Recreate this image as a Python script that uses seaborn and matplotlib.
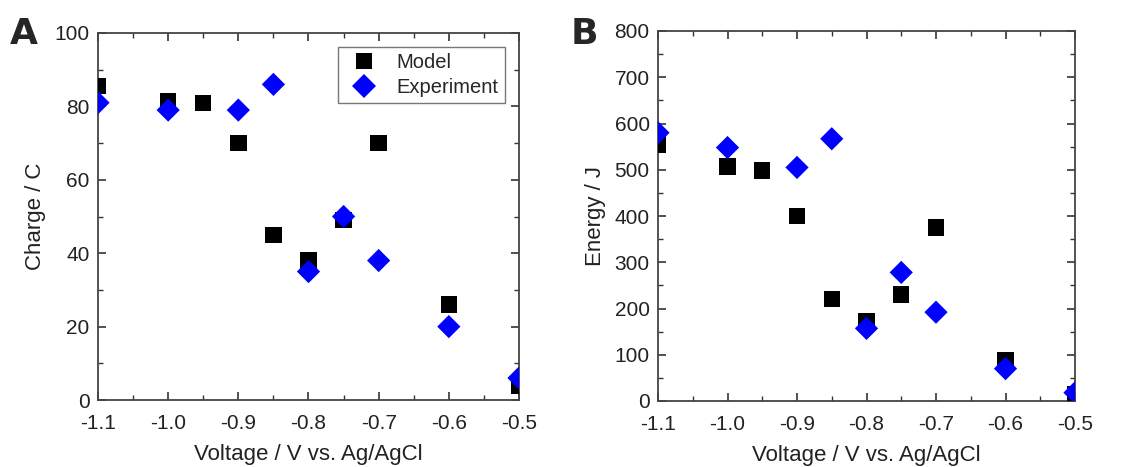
import matplotlib
matplotlib.use("Agg")
import matplotlib.pyplot as plt
import seaborn as sns
import pandas as pd
from matplotlib.ticker import MultipleLocator, FormatStrFormatter

sns.set_theme(style="ticks")
plt.rcParams['font.family'] = ['Liberation Sans', 'DejaVu Sans']

# ---- data ----
voltage_model = [-1.1, -1.0, -0.95, -0.9, -0.85, -0.8, -0.75, -0.7, -0.6, -0.5]
charge_model = [85.5, 81.5, 81, 70, 45, 38, 49, 70, 26, 4]
energy_model = [555, 507, 498, 400, 220, 173, 230, 375, 88, 15]

voltage_exp = [-1.1, -1.0, -0.9, -0.85, -0.8, -0.75, -0.7, -0.6, -0.5]
charge_exp = [81, 79, 79, 86, 35, 50, 38, 20, 6]
energy_exp = [580, 548, 505, 567, 157, 278, 192, 70, 18]

series_names = ["Model", "Experiment"]
xlabel = "Voltage / V vs. Ag/AgCl"
ylabels = ["Charge / C", "Energy / J"]
panel_letters = ["A", "B"]

dfA = pd.concat([
    pd.DataFrame({"V": voltage_model, "y": charge_model, "s": series_names[0]}),
    pd.DataFrame({"V": voltage_exp, "y": charge_exp, "s": series_names[1]}),
])
dfB = pd.concat([
    pd.DataFrame({"V": voltage_model, "y": energy_model, "s": series_names[0]}),
    pd.DataFrame({"V": voltage_exp, "y": energy_exp, "s": series_names[1]}),
])

fig = plt.figure(figsize=(11.44, 4.67), dpi=100)
axA = fig.add_axes([98/1144, 1-400/467, (519-98)/1144, (400-33)/467])
axB = fig.add_axes([658/1144, 1-401/467, (1075-658)/1144, (401-31)/467])

palette = {series_names[0]: "black", series_names[1]: "#0000ff"}
markers = {series_names[0]: "s", series_names[1]: "D"}

for ax, df, ylab, ymax, major, minor, show_leg in [
    (axA, dfA, ylabels[0], 100, 20, 10, True),
    (axB, dfB, ylabels[1], 800, 100, 50, False),
]:
    sns.scatterplot(data=df, x="V", y="y", hue="s", style="s", palette=palette,
                    markers=markers, s=140, edgecolor="none", linewidth=0,
                    ax=ax, legend=show_leg, zorder=3)
    ax.set_xlim(-1.1, -0.5)
    ax.set_ylim(0, ymax)
    ax.xaxis.set_major_locator(MultipleLocator(0.1))
    ax.xaxis.set_minor_locator(MultipleLocator(0.05))
    ax.xaxis.set_major_formatter(FormatStrFormatter("%.1f"))
    ax.yaxis.set_major_locator(MultipleLocator(major))
    ax.yaxis.set_minor_locator(MultipleLocator(minor))
    ax.tick_params(which="both", direction="in", top=True, right=True,
                   color="#333333", labelsize=15, labelcolor="#222222")
    ax.tick_params(which="major", length=6, width=1.2, pad=6)
    ax.tick_params(axis="x", which="major", pad=10)
    ax.tick_params(which="minor", length=3.5, width=1.0)
    for sp in ax.spines.values():
        sp.set_color("#444444")
        sp.set_linewidth(1.3)
    ax.set_xlabel(xlabel, fontsize=16, color="#222222", labelpad=8)
    ax.set_ylabel(ylab, fontsize=16, color="#222222", labelpad=6)

leg = axA.legend(loc="upper right", fontsize=14.5, frameon=True, fancybox=False,
                 edgecolor="#555555", borderpad=0.3, handletextpad=0.6,
                 labelspacing=0.3, markerscale=1.0, bbox_to_anchor=(0.99, 0.99))
leg.get_frame().set_linewidth(1.0)

fig.text(10/1144, 1-44/467, panel_letters[0], fontsize=26, fontweight="bold",
         family=["DejaVu Sans"])
fig.text(571/1144, 1-44/467, panel_letters[1], fontsize=26, fontweight="bold",
         family=["DejaVu Sans"])

fig.savefig("out.png", dpi=100)
